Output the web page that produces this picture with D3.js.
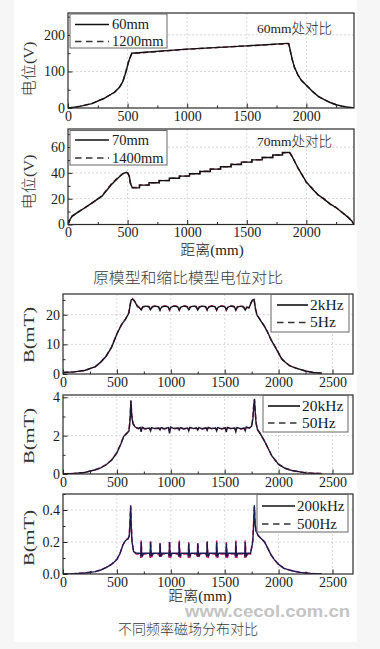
<!DOCTYPE html>
<html>
<head>
<meta charset="utf-8">
<script src="https://cdn.jsdelivr.net/npm/d3@7/dist/d3.min.js"></script>
<style>
html,body{margin:0;padding:0;background:#f6f6f6;}
svg{display:block;}
</style>
</head>
<body>
<svg id="chart" width="380" height="649"></svg>
<script>
// ---------- DATA ----------
// Panel 1: potential at 60mm (original vs scaled 1200mm)
const p1X = [0,50,100,200,300,390,430,460,487,507,535,1000,1500,1840,1852,1860,1880,1900,1930,1960,2000,2050,2100,2150,2200,2250,2300,2350,2400];
const p1Solid = [0,2,4.6,12,26,43,56,72,100,125,150,161,170,177,177,165,135,112,90,75,62,46,32,23,15,9,5,2,0];
const p1Dashed = [0,2,4.8,12,26,43,56,72,101,126,149,161,170,176,176,164,134,111,90,75,62,46,32,23,15,9,5,2,0];

// Panel 2: potential at 70mm (original vs scaled 1400mm)
const p2X = [0,15,34,98,202,285,365,420,460,490,503,515,523,540,600,600,680,680,765,765,850,850,935,935,1020,1020,1107,1107,1194,1194,1280,1280,1368,1368,1455,1455,1543,1543,1630,1630,1718,1718,1800,1800,1860,1880,1900,1930,1960,2000,2050,2100,2150,2200,2250,2300,2350,2380,2400];
const p2Solid = [0,3.5,6.5,10.3,16.8,22,31,36,39.5,40.5,39.5,37,32,28.4,28.4,30.5,30.5,32.3,32.3,34,34,35.8,35.8,37.5,37.5,39.3,39.3,41.1,41.1,42.9,42.9,44.7,44.7,46.5,46.5,48.3,48.3,50.1,50.1,51.9,51.9,53.8,53.8,55.8,55.8,53,49,44,39,33,27.5,23,19.5,16,13,9.5,5.5,3,0];
const p2Dashed = [0,3.2,6.3,10.5,16.5,22.3,31.5,36.5,39.2,40.2,39.8,37.5,32.5,28.6,28.6,30.6,30.6,32.4,32.4,34.1,34.1,35.9,35.9,37.6,37.6,39.4,39.4,41.2,41.2,43,43,44.8,44.8,46.6,46.6,48.4,48.4,50.2,50.2,52,52,53.9,53.9,55.6,55.6,52.5,49.5,43.5,39.5,32.5,28,22.5,20,15.5,13.2,9.2,5.8,2.8,0];

// Panel 3: B at 2kHz vs 5Hz
const p3X = [0,100,200,300,350,400,450,500,540,580,610,622,632,645,665,690,710,
  725,740,768,797, 812,827,856,885, 900,915,944,973, 988,1003,1033,1063,
  1078,1093,1122,1151, 1166,1181,1208,1235, 1250,1265,1294,1322, 1337,1352,1381,1410,
  1425,1440,1470,1500, 1515,1530,1559,1588, 1603,1618,1647,1675,
  1690,1705,1725,1745,1760,1772,1785,1800,1830,1870,1900,1930,1970,2030,2100,2160,2250,2320,2400];
const p3Solid = [0.5,0.7,1.2,2.5,4,6,9,13.5,16.5,18.5,20.5,23,25,25.3,24.5,22.8,22.3,
  21.6,22.6,22.9,22.7, 21.7,22.6,22.9,22.7, 21.6,22.6,22.9,22.7, 21.7,22.6,22.9,22.7,
  21.6,22.6,22.9,22.7, 21.7,22.6,22.9,22.7, 21.6,22.6,22.9,22.7, 21.7,22.6,22.9,22.7,
  21.6,22.6,22.9,22.7, 21.7,22.6,22.9,22.7, 21.6,22.6,22.9,22.6,
  21.6,22.5,22.3,24,25,25.2,22,19.8,18.2,16,14,11.5,9,5,2.8,2,1,0.5,0.3];
const p3Dashed = [0.5,0.7,1.2,2.4,4.1,6,9.1,13.6,16.4,18.6,20.6,23.2,25.2,25.4,24.6,23,22.4,
  21.5,22.7,23,22.8, 21.5,22.7,23,22.8, 21.5,22.7,23,22.8, 21.5,22.7,23,22.8,
  21.5,22.7,23,22.8, 21.5,22.7,23,22.8, 21.5,22.7,23,22.8, 21.5,22.7,23,22.8,
  21.5,22.7,23,22.8, 21.5,22.7,23,22.8, 21.5,22.7,23,22.7,
  21.5,22.6,22.4,24.2,25.2,25.3,22.2,20,18.3,16.1,13.9,11.6,9.1,5.1,2.9,2,1,0.5,0.3];

// Panel 4: B at 20kHz vs 50Hz
const p4X = [0,100,200,300,350,400,450,500,540,562,590,612,622,630,638,650,670,700,
  715,725,735,760, 802,812,822,850, 890,900,910,940, 978,988,998,1030,
  1068,1078,1088,1120, 1156,1166,1176,1210, 1240,1250,1260,1290, 1327,1337,1347,1380,
  1415,1425,1435,1470, 1505,1515,1525,1560, 1593,1603,1613,1650, 1680,1690,1700,1730,
  1750,1762,1770,1776,1783,1792,1805,1830,1875,1910,1937,2000,2060,2125,2250,2400];
const p4Solid = [0,0.03,0.08,0.22,0.32,0.48,0.72,1.1,1.6,1.95,2.1,2.25,2.8,3.85,3.0,2.6,2.45,2.38,
  2.42,2.2,2.45,2.36, 2.4,2.25,2.42,2.37, 2.4,2.3,2.42,2.36, 2.42,2.12,2.45,2.37,
  2.4,2.3,2.42,2.36, 2.4,2.25,2.43,2.37, 2.4,2.3,2.42,2.36, 2.41,2.28,2.43,2.37,
  2.4,2.25,2.42,2.36, 2.41,2.18,2.43,2.37, 2.4,2.2,2.42,2.36, 2.4,2.25,2.45,2.4,
  2.5,2.9,3.6,3.92,3.2,2.6,2.3,2.1,1.65,1.25,0.94,0.5,0.3,0.18,0.06,0.02];
const p4Dashed = [0,0.03,0.08,0.22,0.33,0.49,0.73,1.12,1.62,1.96,2.12,2.28,2.9,3.8,3.1,2.65,2.42,2.36,
  2.4,2.3,2.4,2.35, 2.38,2.3,2.4,2.36, 2.38,2.32,2.4,2.35, 2.4,2.28,2.42,2.36,
  2.38,2.32,2.4,2.35, 2.38,2.3,2.41,2.36, 2.38,2.32,2.4,2.35, 2.39,2.31,2.41,2.36,
  2.38,2.3,2.4,2.35, 2.39,2.28,2.41,2.36, 2.38,2.3,2.4,2.35, 2.38,2.3,2.43,2.4,
  2.52,2.95,3.7,3.88,3.3,2.65,2.32,2.12,1.66,1.26,0.95,0.51,0.3,0.18,0.06,0.02];

// Panel 5: B at 200kHz vs 500Hz
const p5X = [0,100,200,300,350,400,450,500,530,555,580,605,615,622,628,633,640,655,680,
  717,722,725,729,734,745, 804,809,812,816,821,832, 892,897,900,904,909,920,
  980,985,988,992,997,1008, 1070,1075,1078,1082,1087,1098, 1158,1163,1166,1170,1175,1186,
  1242,1247,1250,1254,1259,1270, 1329,1334,1337,1341,1346,1357, 1417,1422,1425,1429,1434,1445,
  1507,1512,1515,1519,1524,1535, 1595,1600,1603,1607,1612,1623, 1682,1687,1690,1694,1699,1710,
  1740,1760,1768,1775,1781,1790,1810,1840,1870,1900,1930,1960,2000,2050,2125,2200,2300,2400];
const p5Solid = [0,0.002,0.006,0.015,0.025,0.04,0.06,0.09,0.13,0.18,0.21,0.22,0.24,0.32,0.43,0.3,0.2,0.14,0.13,
  0.13,0.11,0.2,0.14,0.11,0.13, 0.13,0.11,0.2,0.14,0.11,0.13, 0.13,0.11,0.19,0.14,0.11,0.13,
  0.13,0.11,0.2,0.14,0.11,0.13, 0.13,0.11,0.2,0.14,0.11,0.13, 0.13,0.11,0.19,0.14,0.11,0.13,
  0.13,0.11,0.19,0.14,0.11,0.13, 0.13,0.11,0.2,0.14,0.11,0.13, 0.13,0.11,0.2,0.14,0.11,0.13,
  0.13,0.11,0.19,0.14,0.11,0.13, 0.13,0.11,0.2,0.14,0.11,0.13, 0.13,0.11,0.2,0.14,0.11,0.13,
  0.13,0.2,0.3,0.43,0.32,0.27,0.24,0.22,0.2,0.16,0.12,0.09,0.06,0.035,0.02,0.01,0.004,0];
const p5Dashed = [0,0.002,0.006,0.015,0.026,0.041,0.061,0.092,0.132,0.182,0.212,0.222,0.245,0.34,0.42,0.32,0.21,0.14,0.125,
  0.125,0.1,0.21,0.15,0.1,0.125, 0.125,0.1,0.21,0.15,0.1,0.125, 0.125,0.1,0.2,0.15,0.1,0.125,
  0.125,0.1,0.21,0.15,0.1,0.125, 0.125,0.1,0.21,0.15,0.1,0.125, 0.125,0.1,0.2,0.15,0.1,0.125,
  0.125,0.1,0.2,0.15,0.1,0.125, 0.125,0.1,0.21,0.15,0.1,0.125, 0.125,0.1,0.21,0.15,0.1,0.125,
  0.125,0.1,0.2,0.15,0.1,0.125, 0.125,0.1,0.21,0.15,0.1,0.125, 0.125,0.1,0.21,0.15,0.1,0.125,
  0.125,0.21,0.32,0.42,0.33,0.27,0.24,0.22,0.2,0.16,0.12,0.09,0.06,0.035,0.02,0.01,0.004,0];

// Tick labels / ticks
const xTicksTop = [0,500,1000,1500,2000];
const xTicksBottom = [0,500,1000,1500,2000,2500];
const p1YTicks = [0,100,200];
const p2YTicks = [0,20,40,60];
const p3YTicks = [0,10,20];
const p4YTicks = [0,2,4];
const p5YTicks = [0,0.2,0.4];

// Text
const legend1 = ["60mm","1200mm"];
const legend2 = ["70mm","1400mm"];
const legend3 = ["2kHz","5Hz"];
const legend4 = ["20kHz","50Hz"];
const legend5 = ["200kHz","500Hz"];
const note1 = "60mm处对比";
const note2 = "70mm处对比";
const yTitleV = "电位(V)";
const yTitleB = "B(mT)";
const xTitle = "距离(mm)";
const caption1 = "原模型和缩比模型电位对比";
const caption2 = "不同频率磁场分布对比";
const watermark = "www.cecol.com.cn";

// ---------- DRAW ----------
const svg = d3.select("#chart");
const SERIF = "'Liberation Serif','Times New Roman','Noto Sans CJK SC',serif";
const CJK = "'Noto Sans CJK SC','Noto Sans',sans-serif";

svg.append("rect").attr("x",14).attr("y",0).attr("width",343).attr("height",642).attr("fill","#ffffff");

const defs = svg.append("defs");

function panel(cfg){
  const {id,x0,x1,y0,y1,xMax,yMax,xs,solid,dashed,xTicks,yTicks,xMinorStep,yMinorStep,
         yFmt,legend,leg,solidColor,dashColor,yTitle,yTitleY,yTitleLen,yTitleSize,note} = cfg;
  const x = d3.scaleLinear().domain([0,xMax]).range([x0,x1]);
  const y = d3.scaleLinear().domain([0,yMax]).range([y1,y0]);
  const g = svg.append("g");

  // grid
  const gx = xTicks.filter(v=>v>0 && x(v)<x1-1);
  const gy = yTicks.filter(v=>v>0 && y(v)>y0+1);
  g.selectAll(".gx").data(gx).join("line")
    .attr("x1",d=>x(d)).attr("x2",d=>x(d)).attr("y1",y0).attr("y2",y1)
    .attr("stroke","#d4d4d4").attr("stroke-width",0.9).attr("stroke-dasharray","2,2");
  g.selectAll(".gy").data(gy).join("line")
    .attr("x1",x0).attr("x2",x1).attr("y1",d=>y(d)).attr("y2",d=>y(d))
    .attr("stroke","#d4d4d4").attr("stroke-width",0.9).attr("stroke-dasharray","2,2");

  // clip
  defs.append("clipPath").attr("id","clip"+id).append("rect")
    .attr("x",x0).attr("y",y0).attr("width",x1-x0).attr("height",y1-y0);

  const line = d3.line().x((d,i)=>x(xs[i])).y(d=>y(d));
  g.append("path").datum(dashed).attr("d",line).attr("fill","none")
    .attr("stroke",dashColor).attr("stroke-width",1.5).attr("stroke-dasharray","5,3")
    .attr("clip-path","url(#clip"+id+")");
  g.append("path").datum(solid).attr("d",line).attr("fill","none")
    .attr("stroke",solidColor).attr("stroke-width",1.4)
    .attr("clip-path","url(#clip"+id+")");

  // minor ticks
  const xMinor = d3.range(0,xMax+1,xMinorStep).filter(v=>!xTicks.includes(v));
  const yMinor = d3.range(0,yMax+1e-9,yMinorStep).map(v=>+v.toFixed(4)).filter(v=>!yTicks.some(t=>Math.abs(t-v)<1e-9));
  g.append("g").attr("transform",`translate(0,${y1})`)
    .call(d3.axisBottom(x).tickValues(xMinor).tickSize(-2.5).tickFormat(""))
    .call(s=>s.select(".domain").remove())
    .call(s=>s.selectAll("line").attr("stroke","#222"));
  g.append("g").attr("transform",`translate(${x0},0)`)
    .call(d3.axisLeft(y).tickValues(yMinor).tickSize(-2.5).tickFormat(""))
    .call(s=>s.select(".domain").remove())
    .call(s=>s.selectAll("line").attr("stroke","#222"));

  // major axes
  const ax = g.append("g").attr("transform",`translate(0,${y1})`)
    .call(d3.axisBottom(x).tickValues(xTicks).tickSize(-4.5).tickPadding(3).tickFormat(d3.format("d")));
  ax.select(".domain").remove();
  ax.selectAll("line").attr("stroke","#222");
  ax.selectAll("text").attr("font-family",SERIF).attr("font-size",14).attr("fill","#1a1a1a");
  const ay = g.append("g").attr("transform",`translate(${x0},0)`)
    .call(d3.axisLeft(y).tickValues(yTicks).tickSize(-4.5).tickPadding(3).tickFormat(yFmt));
  ay.select(".domain").remove();
  ay.selectAll("line").attr("stroke","#222");
  ay.selectAll("text").attr("font-family",SERIF).attr("font-size",14).attr("fill","#1a1a1a");

  // frame
  g.append("rect").attr("x",x0).attr("y",y0).attr("width",x1-x0).attr("height",y1-y0)
    .attr("fill","none").attr("stroke","#2a2a2a").attr("stroke-width",1.2);

  // legend
  g.append("rect").attr("x",leg.bx).attr("y",leg.by).attr("width",leg.bw).attr("height",leg.bh)
    .attr("fill","#fff").attr("stroke","#666").attr("stroke-width",1);
  leg.rows.forEach((ry,i)=>{
    g.append("line").attr("x1",leg.lx0).attr("x2",leg.lx1).attr("y1",ry).attr("y2",ry)
      .attr("stroke", i===0 ? "#111" : "#333").attr("stroke-width",1.6)
      .attr("stroke-dasharray", i===0 ? null : "6.5,4.5");
    g.append("text").attr("x",leg.tx).attr("y",ry+4.8).text(legend[i])
      .attr("font-family",SERIF).attr("font-size",leg.fs).attr("fill","#1a1a1a");
  });

  // y title
  g.append("text").attr("transform",`translate(31,${yTitleY}) rotate(-90)`)
    .attr("text-anchor","middle").attr("dominant-baseline","middle")
    .attr("font-family",SERIF).attr("font-size",yTitleSize).attr("font-weight",300).attr("fill","#333")
    .attr("textLength",yTitleLen).attr("lengthAdjust","spacingAndGlyphs")
    .text(yTitle);

  if(note){
    g.append("text").attr("x",note.x).attr("y",note.y).text(note.text)
      .attr("font-family",SERIF).attr("font-size",13.5).attr("font-weight",300).attr("fill","#222");
  }
}

const d2 = d3.format("d");
const d1 = d3.format(".1f");

panel({id:1,x0:68,x1:354,y0:13,y1:108,xMax:2400,yMax:260,xs:p1X,solid:p1Solid,dashed:p1Dashed,
  xTicks:xTicksTop,yTicks:p1YTicks,xMinorStep:250,yMinorStep:50,yFmt:d2,legend:legend1,
  leg:{bx:70,by:14,bw:97,bh:34,rows:[24.5,41.5],lx0:75,lx1:109,tx:112,fs:14.5},
  solidColor:"#111",dashColor:"#8a2a3c",yTitle:yTitleV,yTitleY:69,yTitleLen:55,yTitleSize:15,
  note:{x:257,y:33,text:note1}});
panel({id:2,x0:68,x1:354,y0:129,y1:224.5,xMax:2400,yMax:74,xs:p2X,solid:p2Solid,dashed:p2Dashed,
  xTicks:xTicksTop,yTicks:p2YTicks,xMinorStep:250,yMinorStep:10,yFmt:d2,legend:legend2,
  leg:{bx:70,by:130.5,bw:97,bh:34.5,rows:[140,158],lx0:75,lx1:109,tx:112,fs:14.5},
  solidColor:"#111",dashColor:"#8a2a3c",yTitle:yTitleV,yTitleY:182,yTitleLen:55,yTitleSize:15,
  note:{x:257,y:146,text:note2}});
panel({id:3,x0:63,x1:353,y0:294,y1:374,xMax:2690,yMax:27,xs:p3X,solid:p3Solid,dashed:p3Dashed,
  xTicks:xTicksBottom,yTicks:p3YTicks,xMinorStep:250,yMinorStep:5,yFmt:d2,legend:legend3,
  leg:{bx:271,by:294.5,bw:78,bh:37.5,rows:[305,322.5],lx0:277,lx1:308,tx:310,fs:15.5},
  solidColor:"#151320",dashColor:"#b03055",yTitle:yTitleB,yTitleY:335,yTitleLen:56,yTitleSize:14});
panel({id:4,x0:63,x1:353,y0:395,y1:474,xMax:2690,yMax:4.12,xs:p4X,solid:p4Solid,dashed:p4Dashed,
  xTicks:xTicksBottom,yTicks:p4YTicks,xMinorStep:250,yMinorStep:1,yFmt:d2,legend:legend4,
  leg:{bx:263,by:395.5,bw:85,bh:36.5,rows:[406,423],lx0:268,lx1:300,tx:302,fs:15.5},
  solidColor:"#1a1830",dashColor:"#c02a5e",yTitle:yTitleB,yTitleY:436,yTitleLen:56,yTitleSize:14});
panel({id:5,x0:63,x1:353,y0:494,y1:574,xMax:2690,yMax:0.5,xs:p5X,solid:p5Solid,dashed:p5Dashed,
  xTicks:xTicksBottom,yTicks:p5YTicks,xMinorStep:250,yMinorStep:0.1,yFmt:d1,legend:legend5,
  leg:{bx:257,by:494.5,bw:91,bh:37.5,rows:[506,524],lx0:262,lx1:295,tx:297,fs:15},
  solidColor:"#1c1a50",dashColor:"#c8206a",yTitle:yTitleB,yTitleY:538,yTitleLen:56,yTitleSize:14});

// x titles
svg.append("text").attr("x",212).attr("y",255).attr("text-anchor","middle")
  .attr("font-family",SERIF).attr("font-size",15).attr("font-weight",300).attr("fill","#222").text(xTitle);
svg.append("text").attr("x",200).attr("y",601).attr("text-anchor","middle")
  .attr("font-family",SERIF).attr("font-size",15).attr("font-weight",300).attr("fill","#222").text(xTitle);

// captions
svg.append("text").attr("x",188).attr("y",283).attr("text-anchor","middle")
  .attr("font-family",CJK).attr("font-size",15).attr("font-weight",300).attr("fill","#3a3a3a")
  .attr("textLength",190).attr("lengthAdjust","spacingAndGlyphs").text(caption1);
svg.append("text").attr("x",188).attr("y",634).attr("text-anchor","middle")
  .attr("font-family",CJK).attr("font-size",14).attr("font-weight",300).attr("fill","#3a3a3a")
  .attr("textLength",140).attr("lengthAdjust","spacingAndGlyphs").text(caption2);

// watermark
svg.append("text").attr("x",185).attr("y",617).attr("font-family","'Liberation Sans',Arial,sans-serif")
  .attr("font-size",16).attr("font-weight","bold").attr("fill","#c4c4c4")
  .attr("textLength",165).attr("lengthAdjust","spacingAndGlyphs").text(watermark);
</script>
</body>
</html>
